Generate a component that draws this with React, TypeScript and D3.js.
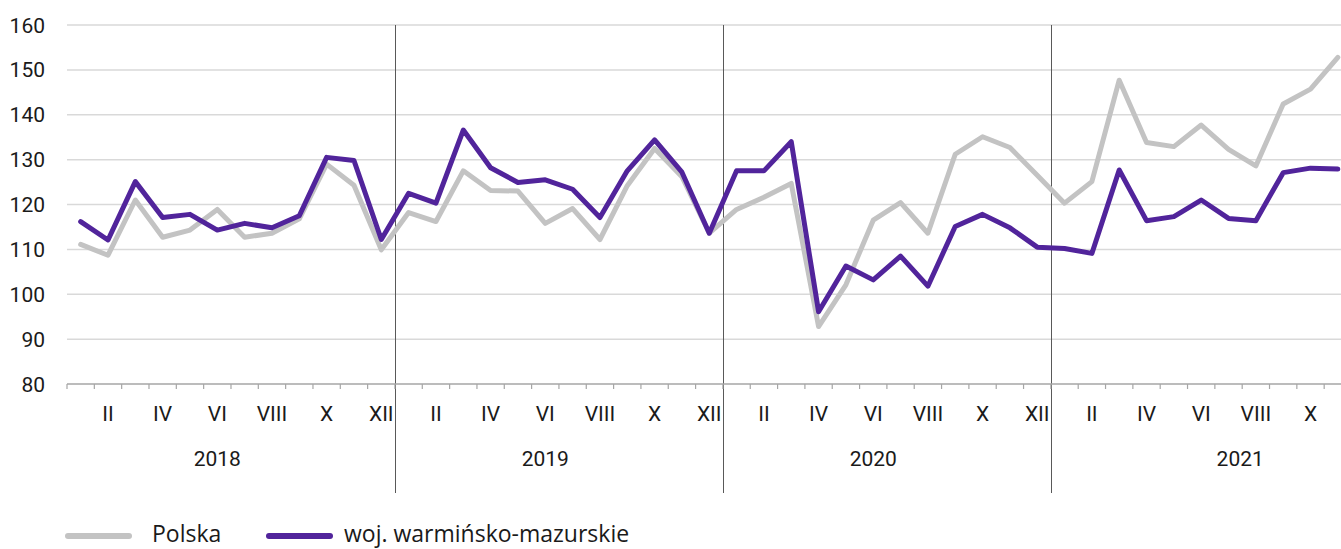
import React, { useEffect } from "react";
import * as d3 from "d3";

// chart data: monthly values, Jan 2018 .. Nov 2021
const years = ["2018", "2019", "2020", "2021"];
const monthLabels = ["I", "II", "III", "IV", "V", "VI", "VII", "VIII", "IX", "X", "XI", "XII"];
const yTicks = [80, 90, 100, 110, 120, 130, 140, 150, 160];

const polska = [
  111.1, 108.7, 121.0, 112.7, 114.3, 118.9, 112.7, 113.6, 116.8, 129.0, 124.3, 109.9,
  118.2, 116.2, 127.5, 123.1, 123.0, 115.8, 119.1, 112.2, 124.2, 132.5, 126.2, 113.6,
  118.9, 121.6, 124.7, 92.8, 102.1, 116.5, 120.4, 113.6, 131.2, 135.1, 132.7, 126.5,
  120.3, 125.1, 147.7, 133.8, 132.9, 137.7, 132.3, 128.6, 142.4, 145.7, 152.8,
];
const warminsko = [
  116.2, 112.1, 125.1, 117.1, 117.8, 114.3, 115.8, 114.8, 117.5, 130.5, 129.8, 112.2,
  122.5, 120.3, 136.6, 128.2, 124.9, 125.5, 123.4, 117.1, 127.5, 134.4, 127.2, 113.6,
  127.5, 127.5, 134.0, 96.1, 106.3, 103.2, 108.5, 101.8, 115.1, 117.8, 114.8, 110.5,
  110.2, 109.1, 127.7, 116.4, 117.3, 121.0, 116.9, 116.4, 127.1, 128.1, 127.9,
];

const seriesNames = ["Polska", "woj. warmińsko-mazurskie"];
const seriesColors = ["#c3c3c3", "#51249b"];

const width = 1341;
const height = 549;
const marginLeft = 67;
const marginTop = 25;
const axisY = 384;
const monthWidth = 27.33;
const font = "Roboto, 'Open Sans', sans-serif";

export default function App() {
  useEffect(() => {
    document.body.style.margin = "0";
  }, []);

  const months = years.flatMap(yr => monthLabels.map((_, i) => `${yr}-${i}`));

  const x = d3
    .scaleBand()
    .domain(months)
    .range([marginLeft, marginLeft + months.length * monthWidth])
    .padding(0);
  const bw = x.bandwidth();

  const y = d3.scaleLinear().domain([80, 160]).range([axisY, marginTop]);

  const line = d3
    .line<number>()
    .x((_, i) => (x(months[i]) as number) + bw / 2)
    .y(d => y(d));

  const series = [polska, warminsko];

  return (
    <svg width={width} height={height} style={{ display: "block" }} fontFamily={font}>
      {/* horizontal grid */}
      {yTicks.slice(1).map(t => (
        <line key={t} x1={marginLeft} x2={width} y1={y(t)} y2={y(t)} stroke="#d9d9d9" strokeWidth={1.5} />
      ))}
      {/* y tick labels */}
      {yTicks.map(t => (
        <text key={t} x={45} y={y(t) + 7.5} textAnchor="end" fontSize={21} fill="#1a1a1a">
          {t}
        </text>
      ))}
      {/* year separators */}
      {years.slice(1).map(yr => {
        const xx = Math.round(x(`${yr}-0`) as number) + 0.5;
        return <line key={yr} x1={xx} x2={xx} y1={marginTop} y2={493} stroke="#595959" strokeWidth={1} />;
      })}
      {/* x axis */}
      <line x1={marginLeft} x2={width} y1={axisY} y2={axisY} stroke="#a6a6a6" strokeWidth={1.5} />
      {months.map(m => {
        const xx = x(m) as number;
        return <line key={m} x1={xx} x2={xx} y1={axisY} y2={axisY + 5} stroke="#a6a6a6" strokeWidth={1.2} />;
      })}
      {months.map((m, i) => {
        const cx = (x(m) as number) + bw / 2;
        return i % 2 === 1 && cx + 15 < width ? (
          <text key={m} x={cx} y={420.5} textAnchor="middle" fontSize={21} fill="#1a1a1a">
            {monthLabels[i % 12]}
          </text>
        ) : null;
      })}
      {years.map((yr, k) => {
        const start = x(`${yr}-0`) as number;
        // last year is cut off at the right edge, so its label sits further right
        const nudge = k === years.length - 1 ? 39 : 0;
        return (
          <text key={yr} x={start + 6 * bw - bw / 2 + nudge} y={465.5} textAnchor="middle" fontSize={21} fill="#1a1a1a">
            {yr}
          </text>
        );
      })}
      {/* lines */}
      {series.map((s, k) => (
        <path
          key={k}
          d={line(s) || ""}
          fill="none"
          stroke={seriesColors[k]}
          strokeWidth={5}
          strokeLinejoin="round"
          strokeLinecap="round"
        />
      ))}
      {/* legend */}
      {[
        { lx: 65, tx: 152 },
        { lx: 266, tx: 344 },
      ].map((p, k) => (
        <g key={k}>
          <line x1={p.lx + 3} x2={p.lx + 64} y1={536} y2={536} stroke={seriesColors[k]} strokeWidth={6} strokeLinecap="round" />
          <text x={p.tx} y={542} fontSize={23} fontFamily="'Open Sans', sans-serif" fill="#1a1a1a">
            {seriesNames[k]}
          </text>
        </g>
      ))}
    </svg>
  );
}
